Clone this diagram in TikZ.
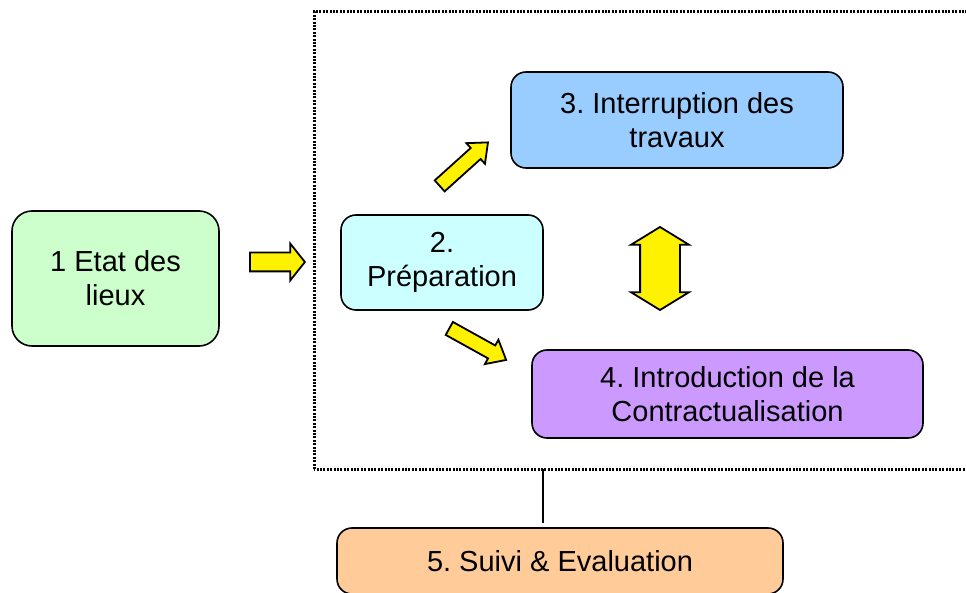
\documentclass[tikz,border=0pt]{standalone}
\usepackage{fontspec}
\setmainfont{Liberation Sans}
\usepackage{xcolor}
\usepackage{tikz}
\usetikzlibrary{shapes.arrows}
\definecolor{vertclair}{HTML}{CCFFCC}
\definecolor{cyanclair}{HTML}{CCFFFF}
\definecolor{bleuclair}{HTML}{99CCFF}
\definecolor{violetclair}{HTML}{CC99FF}
\definecolor{orangeclair}{HTML}{FFCC99}
\frenchspacing

\begin{document}
\begin{tikzpicture}[x=1pt, y=1pt,
					every node/.style = {font=\fontsize{29}{34}\selectfont, align=center},
					etape/.style = {shape=rectangle, rounded corners=15pt, draw,
						line width=1.6pt, inner sep=0pt},
					fleche/.style = {single arrow, draw, line width=1.8pt, fill=yellow,
						inner xsep=0pt, inner ysep=6.5pt, single arrow head extend=6.5pt,
						single arrow tip angle=80, minimum height=65pt, anchor=tail}]
	\useasboundingbox (0,0) rectangle (966,592);
	\clip (0,0) rectangle (966,592);
	% cadre pointille
	\draw[line width=3pt, dash pattern=on 2pt off 1.4pt]
		(314,123) rectangle (1000,580);
	\node (cadre) [minimum width=686pt, minimum height=457pt, inner sep=0pt] at (657,351.5) {};
	% etapes
	\node (etat) [etape, rounded corners=20pt, fill=vertclair,
		minimum width=207pt, minimum height=135pt] at (115.5,313.5) {1 Etat des\\lieux};
	\node (prep) [etape, fill=cyanclair,
		minimum width=202pt, minimum height=95pt] at (442,329.5) {2.\\Préparation};
	\node (interr) [etape, fill=bleuclair,
		minimum width=332pt, minimum height=96pt] at (677,472) {3. Interruption des\\travaux};
	\node (intro) [etape, fill=violetclair,
		minimum width=391pt, minimum height=88pt] at (727.5,198) {4. Introduction de la\\Contractualisation};
	\node (suivi) [etape, fill=orangeclair,
		minimum width=446pt, minimum height=66pt] at (560,31) {5. Suivi \& Evaluation};
	% fleches
	\node (f12) [fleche, inner ysep=8.5pt, single arrow head extend=9pt,
		single arrow tip angle=103, minimum height=55pt] at (249,330) {};
	\node (f23) [fleche, rotate=42] at (439,405.5) {};
	\node (f24) [fleche, rotate=-29] at (448.5,264) {};
	\node (f34) [double arrow, draw, line width=1.8pt, fill=yellow,
		inner xsep=0pt, inner ysep=19pt, double arrow head extend=9pt,
		double arrow tip angle=117, minimum height=83pt, rotate=90] at (660,323.5) {};
	% lien vers le suivi
	\coordinate (lien) at (543,69);
	\draw[line width=1.6pt] (lien) -- (lien |- cadre.south);
\end{tikzpicture}
\end{document}
